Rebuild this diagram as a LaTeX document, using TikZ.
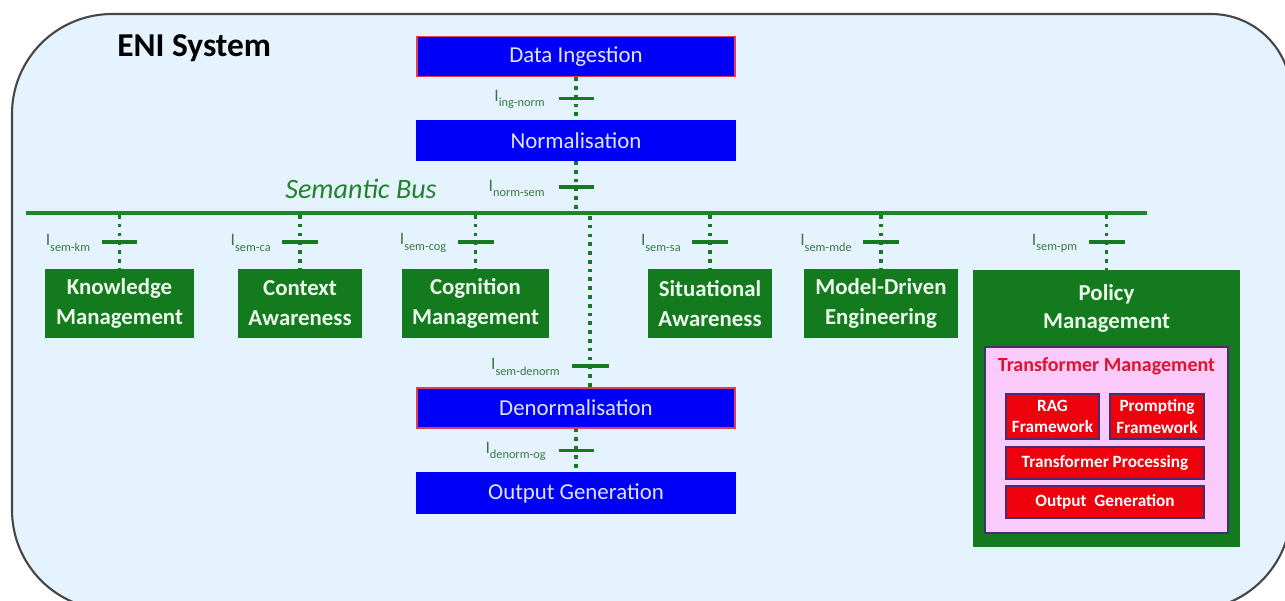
\documentclass[tikz,border=0pt]{standalone}
\usepackage{fontspec}
\setmainfont{Carlito}
\usetikzlibrary{calc}
\definecolor{bgblue}{RGB}{228,243,253}
\definecolor{outline}{RGB}{70,70,70}
\definecolor{boxblue}{RGB}{0,0,250}
\definecolor{bluetext}{RGB}{225,228,255}
\definecolor{redline}{RGB}{230,60,80}
\definecolor{boxgreen}{RGB}{20,122,30}
\definecolor{greentext}{RGB}{236,248,236}
\definecolor{linkgreen}{RGB}{25,120,35}
\definecolor{lblgreen}{RGB}{60,120,65}
\definecolor{busgreen}{RGB}{35,130,45}
\definecolor{pinkfill}{RGB}{250,202,250}
\definecolor{purpleline}{RGB}{70,45,110}
\definecolor{boxred}{RGB}{238,0,12}
\definecolor{redtext}{RGB}{225,20,45}
\newcommand{\lbl}[1]{{\fontsize{10}{10}\selectfont I}\raisebox{-3pt}{\fontsize{7}{7}\selectfont #1}}
\tikzset{
  bluebox/.style={draw=boxblue, line width=0.8pt, fill=boxblue, text=bluetext,
    minimum width=6.36cm, minimum height=0.8cm, inner sep=0pt,
    font=\fontsize{13}{15}\selectfont},
  greenbox/.style={fill=boxgreen, text=greentext, minimum height=1.38cm, inner sep=0pt,
    align=center, font=\bfseries\fontsize{13}{17}\selectfont},
  redbox/.style={draw=purpleline, line width=0.8pt, fill=boxred, text=white, inner sep=0pt,
    align=center, font=\bfseries\fontsize{9.8}{12}\selectfont},
  dotlink/.style={draw=linkgreen, line width=2.1pt, dash pattern=on 2.1pt off 2.9pt},
  crossbar/.style={draw=linkgreen, line width=2pt},
  ilabel/.style={text=lblgreen, anchor=east, inner sep=0pt},
}
\begin{document}
\begin{tikzpicture}[x=0.02cm,y=-0.02cm]
\useasboundingbox (0,0) rectangle (1285,601);
\fill[white] (0,0) rectangle (1285,601);
\begin{scope}
\clip (0,0) rectangle (1285,601);
\draw[outline, line width=1.2pt, fill=bgblue]
  (112,14) -- (1211,14) arc[start angle=90, end angle=0, radius=1.6cm]
  -- (1291,510) arc[start angle=0, end angle=-90, radius=2cm]
  -- (112,610) arc[start angle=-90, end angle=-180, radius=2cm]
  -- (12,114) arc[start angle=180, end angle=90, radius=2cm] -- cycle;
\end{scope}

\node[anchor=west, inner sep=0pt, font=\bfseries\fontsize{19}{22}\selectfont] (title) at (117,48) {ENI System};

% blue pipeline
\node[bluebox, draw=redline] (di) at (576,56.5) {Data Ingestion};
\node[bluebox] (norm) at (576,140.5) {Normalisation};
\node[bluebox, draw=redline] (denorm) at (576,408) {Denormalisation};
\node[bluebox] (og) at (576,493) {Output Generation};

% semantic bus
\coordinate (busL) at (26,213);
\coordinate (busR) at (1147,213);
\draw[busgreen, line width=1.8pt] (busL) -- (busR);
\node[text=busgreen, font=\itshape\fontsize{16}{18}\selectfont, inner sep=0pt] (busname) at (361,189) {Semantic Bus};

% green boxes
\node[greenbox, minimum width=2.98cm] (km) at (119.5,303.5) {Knowledge\\Management};
\node[greenbox, minimum width=2.48cm] (ca) at (300,303.5) {Context\\Awareness};
\node[greenbox, minimum width=2.94cm] (cog) at (475.5,303.5) {Cognition\\Management};
\node[greenbox, minimum width=2.48cm] (sa) at (710,303.5) {Situational\\Awareness};
\node[greenbox, minimum width=3.08cm] (mde) at (881,303.5) {Model-Driven\\Engineering};
\node[fill=boxgreen, minimum width=5.34cm, minimum height=5.54cm, inner sep=0pt] (pm) at (1106.5,408.5) {};
\node[text=greentext, align=center, font=\bfseries\fontsize{13}{16}\selectfont, inner sep=0pt] (pmtext) at (1106.5,308) {Policy\\Management};
\node[draw=purpleline, line width=0.8pt, fill=pinkfill, minimum width=4.86cm, minimum height=3.72cm, inner sep=0pt] (tm) at (1106.5,440) {};
\node[text=redtext, font=\bfseries\fontsize{11.4}{13}\selectfont, inner sep=0pt] (tmtext) at (1106.5,366) {Transformer Management};
\node[redbox, minimum width=1.86cm, minimum height=0.9cm] (rag) at (1052.5,416.5) {RAG\\Framework};
\node[redbox, minimum width=1.88cm, minimum height=0.9cm] (prompt) at (1157,416.5) {Prompting\\Framework};
\node[redbox, minimum width=3.96cm, minimum height=0.64cm] (tp) at (1105,463) {Transformer Processing};
\node[redbox, minimum width=3.96cm, minimum height=0.64cm] (tog) at (1105,502) {Output~~Generation};

% pipeline links
\draw[dotlink] (di.south) -- (norm.north);
\coordinate (c1) at ($(di.south)!0.5!(norm.north)$);
\draw[crossbar] ([xshift=-0.35cm]c1) -- ([xshift=0.35cm]c1);
\node[ilabel] (l1) at ([xshift=-0.62cm,yshift=-0.02cm]c1) {\lbl{ing-norm}};

\coordinate (bnorm) at (576,213);
\draw[dotlink] (norm.south) -- (bnorm);
\coordinate (c2) at ($(norm.south)!0.5!(bnorm)$);
\draw[crossbar] ([xshift=-0.35cm]c2) -- ([xshift=0.35cm]c2);
\node[ilabel] (l2) at ([xshift=-0.62cm,yshift=-0.02cm]c2) {\lbl{norm-sem}};

\coordinate (bden) at (590,216);
\coordinate (dtop) at (590,388);
\draw[dotlink] (bden) -- (dtop);
\coordinate (c3) at (590,366);
\draw[crossbar] ([xshift=-0.36cm]c3) -- ([xshift=0.38cm]c3);
\node[ilabel] (l3) at ([xshift=-0.6cm,yshift=-0.02cm]c3) {\lbl{sem-denorm}};

\draw[dotlink] (denorm.south) -- (og.north);
\coordinate (c4) at ($(denorm.south)!0.5!(og.north)$);
\draw[crossbar] ([xshift=-0.35cm]c4) -- ([xshift=0.35cm]c4);
\node[ilabel] (l4) at ([xshift=-0.6cm,yshift=-0.02cm]c4) {\lbl{denorm-og}};

% bus branches
\foreach \n/\x/\t in {km/119.5/sem-km, ca/300/sem-ca, cog/475.5/sem-cog, sa/710/sem-sa, mde/881/sem-mde, pm/1106.5/sem-pm}{
  \coordinate (b\n) at (\x,215);
  \draw[dotlink] (b\n) -- (b\n |- \n.north);
  \coordinate (x\n) at (\x,242);
  \draw[crossbar] ([xshift=-0.36cm]x\n) -- ([xshift=0.36cm]x\n);
  \node[ilabel] (l\n) at ([xshift=-0.58cm,yshift=-0.02cm]x\n) {\lbl{\t}};
}
\end{tikzpicture}
\end{document}
